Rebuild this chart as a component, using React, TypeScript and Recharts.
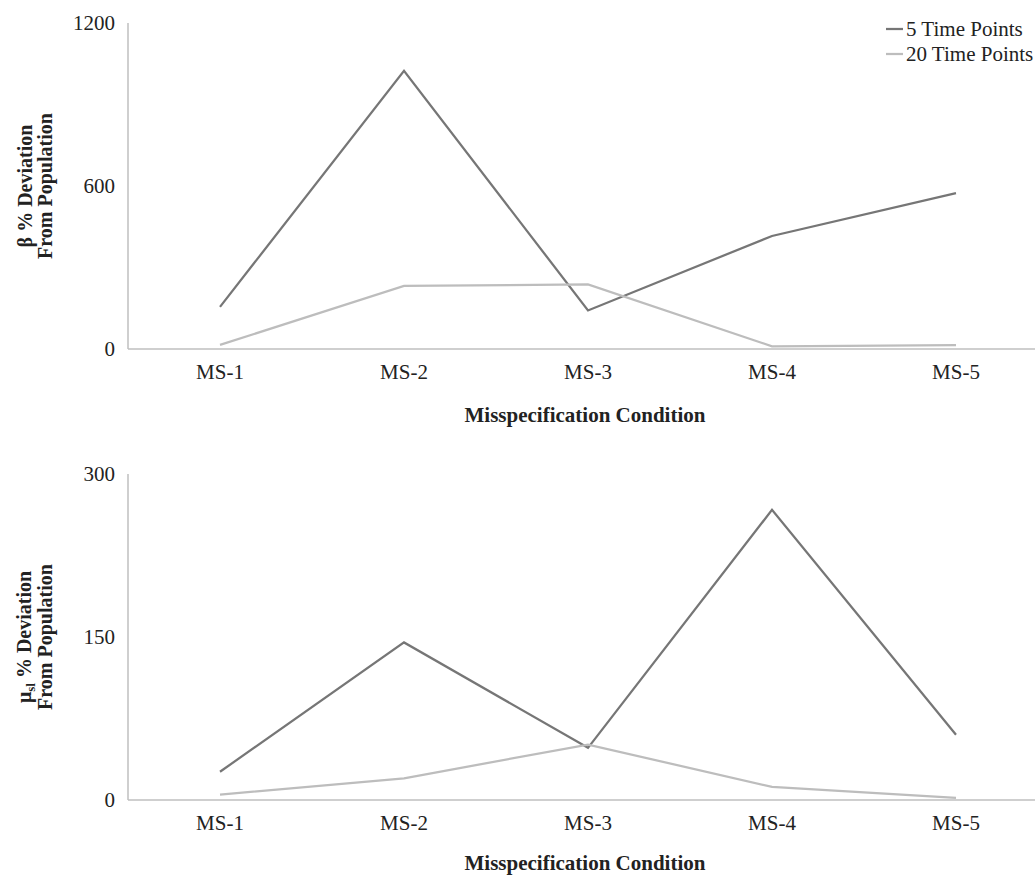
import React from 'react';
import { LineChart, Line, XAxis, YAxis } from 'recharts';

const categories = ['MS-1', 'MS-2', 'MS-3', 'MS-4', 'MS-5'];
const betaFive = [155, 1024, 142, 416, 574];
const betaTwenty = [15, 232, 238, 10, 14];
const muFive = [26, 145, 48, 267, 60];
const muTwenty = [5, 20, 51, 12, 2];
const betaTicks = [0, 600, 1200];
const muTicks = [0, 150, 300];
const seriesNames = ['5 Time Points', '20 Time Points'];
const xTitle = 'Misspecification Condition';

const DARK = '#767676';
const LIGHT = '#BDBDBD';
const AXIS = '#BFBFBF';
const TEXT = '#222222';
const FONT = '"Liberation Serif", "Times New Roman", serif';

const buildRows = (five: number[], twenty: number[]) =>
  categories.map((c, i) => ({ cat: c, five: five[i], twenty: twenty[i] }));

const CHART_W = 1060;
const X_AXIS_H = 42;
const CHART_H = 23 + 326 + X_AXIS_H;

function Panel({ five, twenty, ticks, top }: { five: number[]; twenty: number[]; ticks: number[]; top: number }) {
  const rows = buildRows(five, twenty);
  return (
    <div style={{ position: 'absolute', left: 0, top, width: CHART_W, height: CHART_H }}>
      <LineChart width={CHART_W} height={CHART_H} data={rows} margin={{ top: 23, right: 12, left: 0, bottom: 0 }}>
        <XAxis
          dataKey="cat"
          padding={{ left: 92, right: 92 }}
          height={X_AXIS_H}
          axisLine={{ stroke: AXIS, strokeWidth: 1.5 }}
          tickLine={false}
          tickSize={6}
          tickMargin={9}
          tick={{ fill: TEXT, fontSize: 21, fontFamily: FONT }}
        />
        <YAxis
          width={128}
          domain={[0, ticks[ticks.length - 1]]}
          ticks={ticks}
          interval={0}
          axisLine={{ stroke: AXIS, strokeWidth: 1.5 }}
          tickLine={false}
          tickSize={6}
          tickMargin={7}
          tick={{ fill: TEXT, fontSize: 21, fontFamily: FONT }}
        />
        <Line dataKey="five" name={seriesNames[0]} stroke={DARK} strokeWidth={2.25} dot={false} isAnimationActive={false} />
        <Line dataKey="twenty" name={seriesNames[1]} stroke={LIGHT} strokeWidth={2.25} dot={false} isAnimationActive={false} />
      </LineChart>
    </div>
  );
}

export default function App() {
  return (
    <div style={{ position: 'fixed', left: 0, top: 0, width: 1035, height: 875, overflow: 'hidden', background: '#fff' }}>
      <Panel five={betaFive} twenty={betaTwenty} ticks={betaTicks} top={0} />
      <Panel five={muFive} twenty={muTwenty} ticks={muTicks} top={451} />
      <svg width={1035} height={875} style={{ position: 'absolute', left: 0, top: 0, pointerEvents: 'none' }}>
        {/* legend */}
        <line x1={886} y1={29} x2={903} y2={29} stroke={DARK} strokeWidth={2.25} />
        <text x={906} y={36} fontFamily={FONT} fontSize={21} fill={TEXT}>{seriesNames[0]}</text>
        <line x1={886} y1={54} x2={903} y2={54} stroke={LIGHT} strokeWidth={2.25} />
        <text x={906} y={61} fontFamily={FONT} fontSize={21} fill={TEXT}>{seriesNames[1]}</text>

        {/* x titles */}
        <text x={585} y={422} textAnchor="middle" fontFamily={FONT} fontSize={21} fontWeight="bold" fill={TEXT}>{xTitle}</text>
        <text x={585} y={870} textAnchor="middle" fontFamily={FONT} fontSize={21} fontWeight="bold" fill={TEXT}>{xTitle}</text>

        {/* y titles */}
        <g transform="translate(32,186) rotate(-90)">
          <text x={0} y={0} textAnchor="middle" fontFamily={FONT} fontSize={20} fontWeight="bold" fill={TEXT}>β % Deviation</text>
        </g>
        <g transform="translate(52,186) rotate(-90)">
          <text x={0} y={0} textAnchor="middle" fontFamily={FONT} fontSize={20} fontWeight="bold" fill={TEXT}>From Population</text>
        </g>
        <g transform="translate(31,637) rotate(-90)">
          <text x={0} y={0} textAnchor="middle" fontFamily={FONT} fontSize={20} fontWeight="bold" fill={TEXT}>
            μ<tspan fontSize={13} dy={4}>sl</tspan><tspan dy={-4}> % Deviation</tspan>
          </text>
        </g>
        <g transform="translate(52,637) rotate(-90)">
          <text x={0} y={0} textAnchor="middle" fontFamily={FONT} fontSize={20} fontWeight="bold" fill={TEXT}>From Population</text>
        </g>
      </svg>
    </div>
  );
}
